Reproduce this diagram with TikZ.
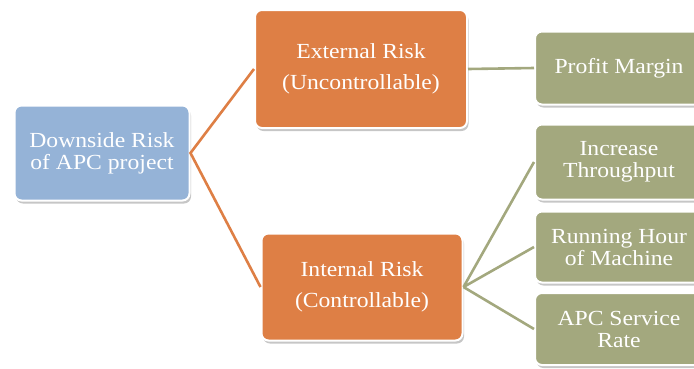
\documentclass[tikz,border=0pt]{standalone}
\usepackage{fontspec}
\setmainfont[FakeStretch=1.1]{Liberation Serif}
\usetikzlibrary{shadows}

\definecolor{riskblue}{HTML}{95B3D7}
\definecolor{riskorange}{HTML}{DE7F45}
\definecolor{riskolive}{HTML}{A3A87E}

\begin{document}
\begin{tikzpicture}[x=1pt, y=-1pt,
        box/.style={draw=white, line width=2pt, rounded corners=7pt, text=white, align=center,
            inner sep=0pt, font=\fontsize{21.5}{22}\selectfont,
            drop shadow={opacity=.45, shadow xshift=1.5pt, shadow yshift=-3pt}},
        risk/.style={box, fill=riskorange, font=\fontsize{21.5}{31}\selectfont},
        leaf/.style={box, fill=riskolive, minimum width=168pt}]
        \useasboundingbox (0, 0) rectangle (694, 368);
        \clip (0, 0) rectangle (694, 368);

        \node[box, fill=riskblue, minimum width=175pt, minimum height=95pt] (down) at (102, 153) {Downside Risk\\of APC project};
        \node[risk, minimum width=212pt, minimum height=118pt] (ext) at (361, 69) {External Risk\\(Uncontrollable)};
        \node[risk, minimum width=201pt, minimum height=107pt] (int) at (362, 287) {Internal Risk\\(Controllable)};

        \node[leaf, minimum height=73pt] (profit) at (619, 68) {Profit Margin};
        \node[leaf, minimum height=75pt] (thru) at (619, 162) {Increase\\Throughput};
        \node[leaf, minimum height=71pt] (hours) at (619, 247) {Running Hour\\of Machine};
        \node[leaf, minimum height=72pt] (rate) at (619, 329) {APC Service\\Rate};

        \draw[riskorange, line width=2.6pt] (ext.west) -- (down.east) -- (int.west);
        \draw[riskolive, line width=2.6pt] (ext.east) -- (profit.west);
        \foreach \t in {thru, hours, rate}
            \draw[riskolive, line width=2.6pt] (int.east) -- (\t.west);
    \end{tikzpicture}
\end{document}
